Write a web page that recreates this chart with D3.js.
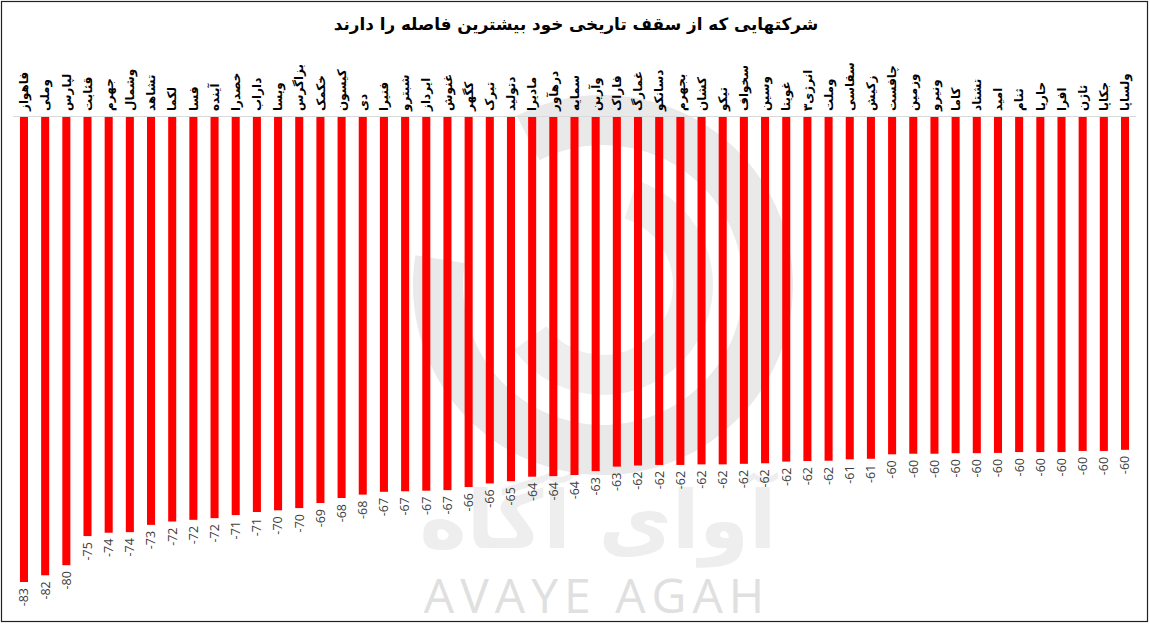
<!DOCTYPE html>
<html>
<head>
<meta charset="utf-8">
<script src="https://cdn.jsdelivr.net/npm/d3@7"></script>
<style>
  html, body { margin: 0; padding: 0; background: #fff; }
  svg { display: block; }
</style>
</head>
<body>
<svg id="chart" width="1150" height="627"></svg>
<script>
const title = "شرکتهایی که از سقف تاریخی خود بیشترین فاصله را دارند";

const categories = [
  "فاهواز","وملی","لپارس","قثابت","جهرم","وشمال","تشاهد","لکما","فسا","آینده",
  "خصدرا","داراب","ویسا","بزاگرس","خکمک","کیسون","دی","فنیرا","شبترو","ایرداز",
  "غنوش","کگهر","تبرک","دتولید","مادیرا","درهآور","سمایه","وآرین","فاراک","غمارگ",
  "دسانکو","بجهرم","کشان","تیکو","سخواف","وسین","غویتا","انرژی۳","وملت","سقاسی",
  "زکیش","چافست","وزمین","ونیرو","کاما","تشتاد","امید","ثنام","حاریا","افرا",
  "ثاژن","جکاپا","ولساپا"
];

const values = [
  -83.2,-82.0,-80.2,-75.0,-74.4,-74.3,-73.0,-72.4,-72.1,-71.8,
  -71.25,-70.7,-70.4,-70.0,-69.1,-68.2,-67.6,-67.1,-67.0,-66.9,
  -66.8,-66.25,-65.6,-65.2,-64.4,-64.3,-64.1,-63.4,-62.6,-62.4,
  -62.3,-62.3,-62.2,-62.2,-62.1,-62.0,-61.7,-61.6,-61.55,-61.3,
  -61.2,-60.4,-60.3,-60.3,-60.2,-60.2,-60.15,-60.0,-60.0,-60.0,
  -59.8,-59.8,-59.6
];

const W = 1150, H = 627;
const svg = d3.select("#chart");

// border
svg.append("rect")
  .attr("x", 1.5).attr("y", 1.5)
  .attr("width", W - 4).attr("height", 620)
  .attr("fill", "#fff").attr("stroke", "#222").attr("stroke-width", 1.2);

// watermark
const wm = svg.append("g");
const arc = d3.arc();
wm.append("path")
  .attr("transform", "translate(603,285)")
  .attr("d", arc({innerRadius: 140, outerRadius: 190, startAngle: -Math.PI * 0.15, endAngle: Math.PI * 1.55}))
  .attr("fill", "#e9e9e9");
wm.append("path")
  .attr("transform", "translate(603,285)")
  .attr("d", arc({innerRadius: 70, outerRadius: 110, startAngle: Math.PI * 0.1, endAngle: Math.PI * 1.3}))
  .attr("fill", "#eeeeee");
wm.append("text")
  .attr("x", 598).attr("y", 548)
  .attr("text-anchor", "middle")
  .attr("font-family", "DejaVu Sans")
  .attr("font-weight", "bold")
  .attr("font-size", 80)
  .attr("fill", "#eeeeee")
  .text("آوای آگاه");
wm.append("text")
  .attr("x", 597).attr("y", 613)
  .attr("text-anchor", "middle")
  .attr("font-family", "Open Sans, Liberation Sans, sans-serif")
  .attr("font-size", 48)
  .attr("letter-spacing", 6)
  .attr("fill", "#e0e0e0")
  .text("AVAYE AGAH");

// title
svg.append("text")
  .attr("x", 576).attr("y", 30)
  .attr("text-anchor", "middle")
  .attr("font-family", "DejaVu Sans")
  .attr("font-weight", "bold")
  .attr("font-size", 16.8)
  .attr("fill", "#000")
  .text(title);

// scales
const y0 = 116;
const x = d3.scaleBand()
  .domain(categories)
  .range([13.4, 1135.6])
  .paddingInner(0.62)
  .paddingOuter(0.31);

const y = d3.scaleLinear()
  .domain([0, -83.2])
  .range([y0, 582]);

// bars
svg.append("g").selectAll("rect")
  .data(values)
  .join("rect")
  .attr("x", (d, i) => x(categories[i]))
  .attr("y", y(0))
  .attr("width", x.bandwidth())
  .attr("height", d => y(d) - y(0))
  .attr("fill", "#ff0000");

// axis line
svg.append("line")
  .attr("x1", 13).attr("x2", 1136)
  .attr("y1", y0 + 0.5).attr("y2", y0 + 0.5)
  .attr("stroke", "#d9d9d9").attr("stroke-width", 1);

// category labels
svg.append("g").selectAll("text")
  .data(categories)
  .join("text")
  .attr("transform", d => `translate(${x(d) + x.bandwidth() / 2},111) rotate(-90)`)
  .attr("dy", "0.35em")
  .attr("text-anchor", "start")
  .attr("font-family", "DejaVu Sans")
  .attr("font-weight", "bold")
  .attr("font-size", 12)
  .attr("fill", "#000")
  .text(d => d);

// value labels
svg.append("g").selectAll("text")
  .data(values)
  .join("text")
  .attr("transform", (d, i) => `translate(${x(categories[i]) + x.bandwidth() / 2},${y(d) + 6}) rotate(-90)`)
  .attr("dy", "0.35em")
  .attr("text-anchor", "end")
  .attr("font-family", "Open Sans, Liberation Sans, sans-serif")
  .attr("font-size", 12.5)
  .attr("fill", "#404040")
  .text(d => String(Math.round(d)));
</script>
</body>
</html>
